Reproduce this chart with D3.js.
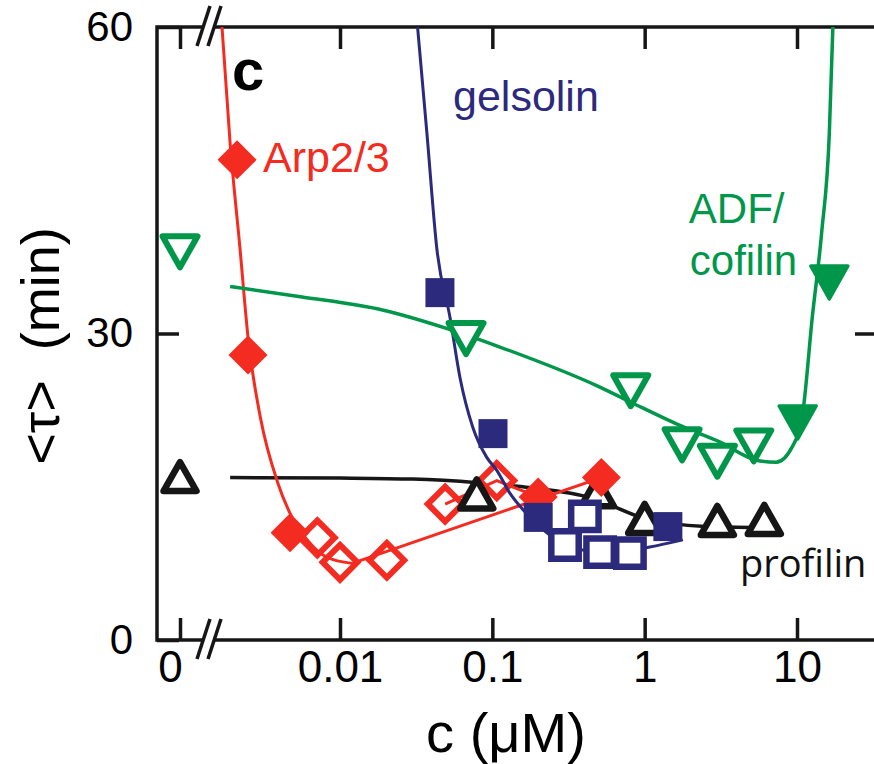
<!DOCTYPE html>
<html>
<head>
<meta charset="utf-8">
<script src="https://cdn.jsdelivr.net/npm/d3@7"></script>
<style>
    body { margin: 0; background: #fff; }
    svg { display: block; font-family: Arial, "Liberation Sans", Helvetica, sans-serif; }
</style>
</head>
<body>
<svg id="chart" width="874" height="764"></svg>
<script>
/* ========================================
   Mean filament lifetime <tau> vs. concentration c
   (broken log x axis with a "0" slot)
   ======================================== */

// === Data: [c (uM), <tau> (min)] ===
const xTicks = [0.01, 0.1, 1, 10];
const yTicks = [0, 30, 60];

// Arp2/3 (red)
const arpFilled = [[0.00211, 47.0], [0.00249, 27.9], [0.0047, 10.5], [0.2, 14.0], [0.52, 15.9]];
const arpOpen = [[0.0071, 10.0], [0.01, 7.6], [0.0203, 7.8], [0.049, 13.3], [0.107, 15.6]];
const arpFit = [[0.00168, 60], [0.0019, 48.6], [0.0022, 38.5], [0.0025, 29.4], [0.0030, 21.8],
                [0.0039, 15.4], [0.0047, 12.4], [0.0061, 9.8], [0.0082, 8.1], [0.012, 7.5]];
const arpTrend = [[0.012, 7.5], [0.52, 15.9]];
const arpLink = [[0.049, 13.3], [0.107, 15.6], [0.2, 14.0]];

// gelsolin (blue)
const gelFilled = [[0.0453, 34.0], [0.101, 20.2], [0.2, 12.0], [1.42, 11.1]];
const gelOpen = [[0.30, 9.3], [0.405, 12.1], [0.51, 8.6], [0.80, 8.5]];
const gelFit = [[0.0323, 60], [0.0372, 49.6], [0.0433, 38.2], [0.0527, 31.6], [0.0613, 25.7],
                [0.0745, 20.8], [0.0917, 17.9], [0.107, 16.6], [0.130, 14.4], [0.167, 12.4],
                [0.237, 10.3], [0.39, 8.8], [0.65, 8.6], [1.08, 9.1], [1.78, 9.8]];

// ADF/cofilin (green)
const adfOpen = [[0, 38.0], [0.0672, 29.5], [0.81, 24.4], [1.76, 19.1], [3.0, 17.5], [5.2, 19.0]];
const adfFilled = [[10.1, 21.3], [16.3, 35.0]];
const adfFit = [[0.0019, 34.6], [0.0055, 33.6], [0.019, 32.3], [0.05, 30.5], [0.111, 28.7],
                [0.5, 24.8], [0.83, 23.2], [1.89, 20.7], [3.1, 19.4], [5.4, 17.6], [7.3, 17.4],
                [9.3, 18.9], [10.9, 22.2], [12.6, 31.6], [14.5, 39.8], [16.3, 49.6], [17.2, 60]];

// profilin (black)
const proOpen = [[0, 16.0], [0.079, 14.3], [0.49, 14.5], [1.0, 11.9], [3.0, 11.7], [6.1, 11.8]];
const proFit = [[0.0019, 15.9], [0.01, 15.85], [0.03, 15.75], [0.08, 15.4], [0.18, 14.9],
                [0.45, 13.9], [1.0, 11.9], [2.5, 11.1], [5.0, 11.0]];

const colors = { red: '#f32b21', blue: '#2c2a7c', green: '#00974a', black: '#161616' };

// === Layout ===
const margin = { top: 27, right: 0, bottom: 124, left: 157 };
const width = 720;
const height = 613;

const svg = d3.select('#chart');
const g = svg.append('g')
    .attr('transform', `translate(${margin.left},${margin.top})`);

// Scales: log part plus a single slot for c = 0
const xLog = d3.scaleLog().domain([0.01, 10]).range([183, 640]);
const xZero = d3.scalePoint().domain([0]).range([0, 46]);
const y = d3.scaleLinear().domain([0, 60]).range([height, 0]);
const x = c => (c === 0 ? xZero(0) : xLog(c));
const breakX = 52;

// === Axes ===
function styleAxis(sel, size) {
    sel.select('.domain').remove();
    sel.selectAll('.tick line')
        .attr('stroke', colors.black)
        .attr('stroke-width', 3.5);
    sel.selectAll('.tick text')
        .attr('fill', '#000')
        .style('font-size', size + 'px');
}

const bottomLog = g.append('g')
    .attr('transform', `translate(0,${height})`)
    .call(d3.axisBottom(xLog).tickValues(xTicks).tickFormat(d => d)
        .tickSizeInner(-22).tickSizeOuter(0).tickPadding(11));
styleAxis(bottomLog, 44);

const bottomZero = g.append('g')
    .attr('transform', `translate(0,${height})`)
    .call(d3.axisBottom(xZero).tickFormat(d => d)
        .tickSizeInner(-22).tickSizeOuter(0).tickPadding(11));
styleAxis(bottomZero, 44);
bottomZero.selectAll('.tick text').attr('dx', -10);

const topLog = g.append('g')
    .call(d3.axisTop(xLog).tickValues(xTicks).tickFormat('')
        .tickSizeInner(-22).tickSizeOuter(0));
styleAxis(topLog, 42);

const topZero = g.append('g')
    .call(d3.axisTop(xZero).tickFormat('').tickSizeInner(-22).tickSizeOuter(0));
styleAxis(topZero, 42);

const leftAxis = g.append('g')
    .call(d3.axisLeft(y).tickValues(yTicks).tickSizeInner(-22).tickSizeOuter(0).tickPadding(24));
styleAxis(leftAxis, 42);

const rightAxis = g.append('g')
    .attr('transform', `translate(${width},0)`)
    .call(d3.axisRight(y).tickValues([30]).tickFormat('').tickSizeInner(-22).tickSizeOuter(0));
styleAxis(rightAxis, 42);

// Frame
g.append('rect')
    .attr('width', width)
    .attr('height', height)
    .attr('fill', 'none')
    .attr('stroke', colors.black)
    .attr('stroke-width', 3.5);

// Axis breaks (//) on bottom and top
[height, 0].forEach(yy => {
    const br = g.append('g').attr('transform', `translate(${breakX},${yy})`);
    br.append('rect')
        .attr('x', -6).attr('y', -4)
        .attr('width', 12).attr('height', 8)
        .attr('fill', '#fff');
    [-12, -1].forEach(dx => {
        br.append('line')
            .attr('x1', dx).attr('y1', 19)
            .attr('x2', dx + 13).attr('y2', -21)
            .attr('stroke', colors.black)
            .attr('stroke-width', 3.5);
    });
});

// === Marks ===
g.append('clipPath').attr('id', 'plot-clip')
    .append('rect').attr('width', width).attr('height', height);

const plot = g.append('g').attr('clip-path', 'url(#plot-clip)');

const smooth = d3.line().x(d => x(d[0])).y(d => y(d[1])).curve(d3.curveMonotoneX);
const straight = d3.line().x(d => x(d[0])).y(d => y(d[1]));

function drawLine(data, gen, color, w) {
    plot.append('path')
        .datum(data)
        .attr('d', gen)
        .attr('fill', 'none')
        .attr('stroke', color)
        .attr('stroke-width', w);
}

// triangle with its box centred on the point; dir = 1 up, -1 down
function triPath(w, h, dir) {
    return `M0,${-dir * h / 2}L${w / 2},${dir * h / 2}L${-w / 2},${dir * h / 2}Z`;
}

function drawPoints(data, shape, opts) {
    plot.append('g')
        .selectAll('path')
        .data(data)
        .join('path')
        .attr('transform', d => `translate(${x(d[0])},${y(d[1])})${opts.rotate ? ' rotate(45)' : ''}`)
        .attr('d', shape)
        .attr('fill', opts.fill)
        .attr('stroke', opts.stroke)
        .attr('stroke-width', opts.sw)
        .attr('stroke-linejoin', opts.join || 'miter');
}

// profilin fit line, then red open diamonds under black triangles
drawLine(proFit, smooth, colors.black, 3.5);
drawPoints(arpOpen, d3.symbol(d3.symbolSquare, 600)(),
    { fill: '#fff', stroke: colors.red, sw: 6, rotate: true });
drawLine(arpLink, straight, colors.red, 3);
drawPoints(proOpen, triPath(33, 29, 1),
    { fill: '#fff', stroke: colors.black, sw: 6.5, join: 'round' });

// Arp2/3
drawLine(arpFit, smooth, colors.red, 3);
drawLine(arpTrend, straight, colors.red, 3);
drawPoints(arpFilled, d3.symbol(d3.symbolSquare, 760)(),
    { fill: colors.red, stroke: 'none', sw: 0, rotate: true });

// gelsolin
drawLine(gelFit, smooth, colors.blue, 3);
drawPoints(gelOpen, d3.symbol(d3.symbolSquare, 750)(),
    { fill: '#fff', stroke: colors.blue, sw: 6.5 });
drawPoints(gelFilled, d3.symbol(d3.symbolSquare, 841)(),
    { fill: colors.blue, stroke: 'none', sw: 0 });

// ADF/cofilin
drawLine(adfFit, smooth, colors.green, 3.5);
drawPoints(adfOpen, triPath(35, 31, -1),
    { fill: '#fff', stroke: colors.green, sw: 6, join: 'round' });
drawPoints(adfFilled, triPath(37, 33, -1),
    { fill: colors.green, stroke: colors.green, sw: 3.5, join: 'round' });

// === Labels ===
function label(text, px, py, color, size, extra) {
    const t = g.append('text')
        .attr('x', px)
        .attr('y', py)
        .attr('fill', color)
        .style('font-size', size + 'px')
        .text(text);
    if (extra) extra(t);
    return t;
}

label('c', 75, 63, '#000', 58, t => t.style('font-weight', 'bold'));
label('Arp2/3', x(arpFilled[0][0]) + 26, y(arpFilled[0][1]) + 12, colors.red, 43);
label('gelsolin', x(0.0552), y(51.8), colors.blue, 43);
label('ADF/', x(1.95), y(40.8), colors.green, 42);
label('cofilin', x(1.98), y(35.7), colors.green, 42);
label('profilin', x(4.22), y(6.2), '#111', 38, t => t.style('font-family', '"Open Sans", "Noto Sans", sans-serif'));

// Axis titles
svg.append('text')
    .attr('x', 506)
    .attr('y', 752)
    .attr('text-anchor', 'middle')
    .style('font-size', '56px')
    .text('c (\u03bcM)');

svg.append('text')
    .attr('transform', 'translate(59,346) rotate(-90)')
    .attr('text-anchor', 'middle')
    .style('font-size', '54px')
    .style('white-space', 'pre')
    .text('<\u03c4>  (min)');
</script>
</body>
</html>
